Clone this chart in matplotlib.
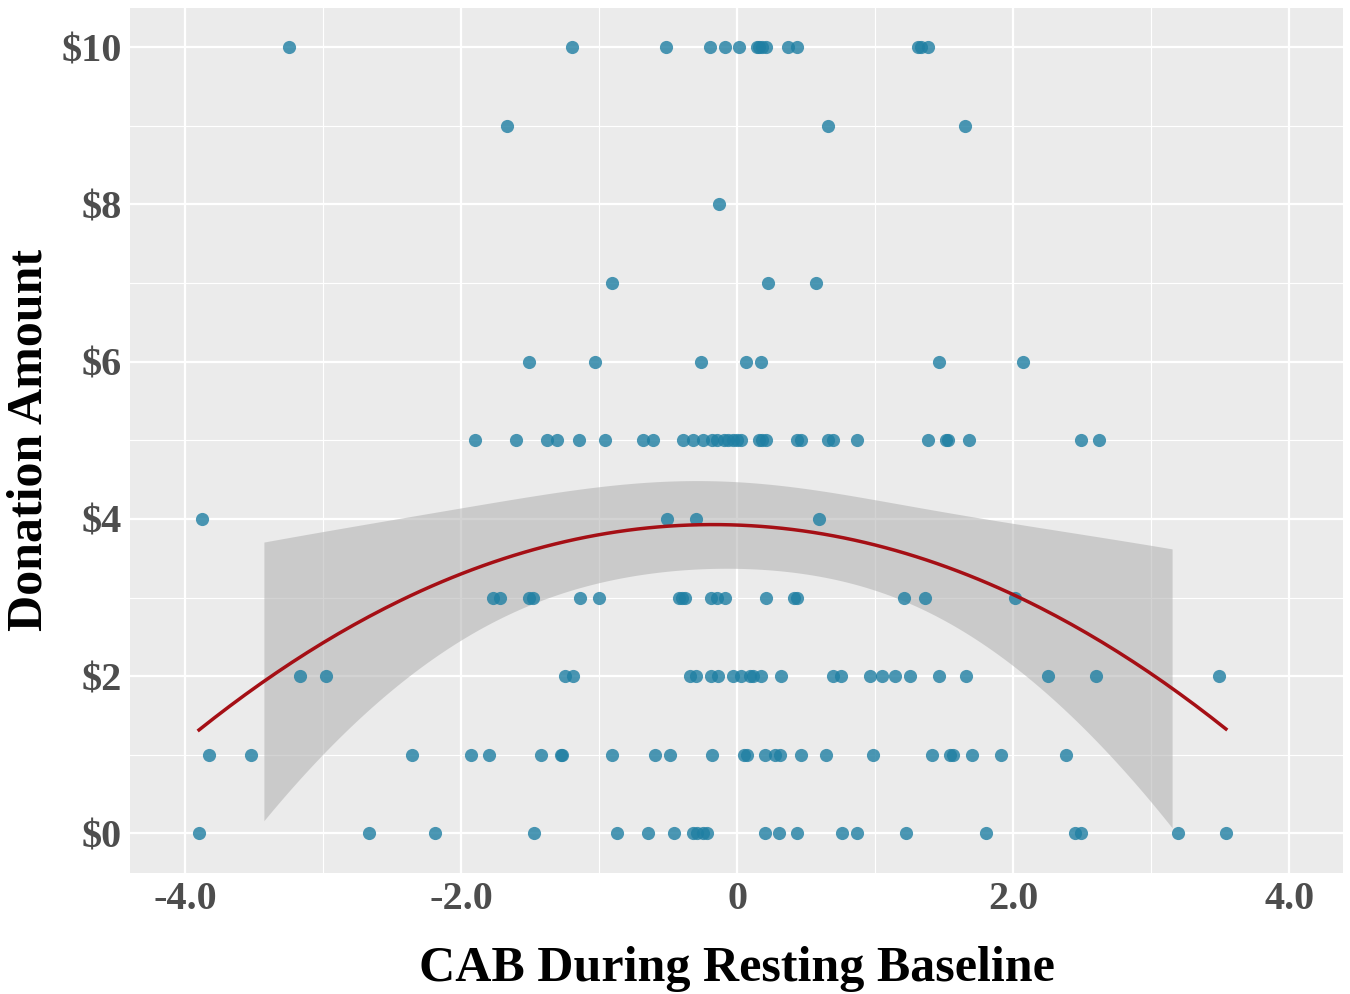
import matplotlib.pyplot as plt
import numpy as np

# donation amount -> CAB values
cab_0 = [-3.90, -2.67, -2.19, -1.47, -0.87, -0.65, -0.46, -0.32, -0.29, -0.25, -0.22,
         0.20, 0.30, 0.43, 0.76, 0.87, 1.22, 1.80, 2.45, 2.49, 3.19, 3.54]
cab_1 = [-3.83, -3.52, -2.36, -1.93, -1.80, -1.42, -1.28, -1.27, -0.91, -0.60, -0.49,
         -0.18, 0.05, 0.07, 0.20, 0.27, 0.31, 0.46, 0.64, 0.98, 1.41, 1.54, 1.56, 1.70,
         1.91, 2.38]
cab_2 = [-3.17, -2.98, -1.25, -1.19, -0.34, -0.30, -0.19, -0.14, -0.03, 0.03, 0.09,
         0.11, 0.17, 0.32, 0.69, 0.75, 0.96, 1.05, 1.14, 1.25, 1.46, 1.66, 2.25, 2.60, 3.49]
cab_3 = [-1.77, -1.72, -1.51, -1.48, -1.14, -1.00, -0.42, -0.40, -0.38, -0.19, -0.15,
         -0.09, 0.21, 0.41, 0.43, 1.21, 1.36, 2.01]
cab_4 = [-3.88, -0.51, -0.30, 0.59]
cab_5 = [-1.90, -1.60, -1.38, -1.31, -1.15, -0.96, -0.68, -0.61, -0.39, -0.32, -0.25,
         -0.18, -0.15, -0.10, -0.07, -0.03, 0.00, 0.03, 0.16, 0.18, 0.21, 0.43, 0.46,
         0.66, 0.69, 0.87, 1.38, 1.51, 1.53, 1.68, 2.49, 2.62]
cab_6 = [-1.51, -1.03, -0.26, 0.06, 0.17, 1.46, 2.07]
cab_7 = [-0.91, 0.22, 0.57]
cab_8 = [-0.13]
cab_9 = [-1.67, 0.66, 1.65]
cab_10 = [-3.25, -1.20, -0.52, -0.20, -0.09, 0.01, 0.14, 0.16, 0.18, 0.21, 0.37, 0.43,
          1.31, 1.33, 1.38]

groups = [cab_0, cab_1, cab_2, cab_3, cab_4, cab_5, cab_6, cab_7, cab_8, cab_9, cab_10]
x = np.concatenate([np.array(g) for g in groups])
y = np.concatenate([np.full(len(g), float(i)) for i, g in enumerate(groups)])

# quadratic fit with 95% confidence band
X = np.column_stack([np.ones_like(x), x, x ** 2])
beta, res, _, _ = np.linalg.lstsq(X, y, rcond=None)
n, p = X.shape
sigma2 = ((y - X @ beta) ** 2).sum() / (n - p)
cov = sigma2 * np.linalg.inv(X.T @ X)

line_x = np.linspace(x.min(), x.max(), 200)
band_x = np.linspace(-3.43, 3.15, 200)
Lb = np.column_stack([np.ones_like(band_x), band_x, band_x ** 2])
band_y = Lb @ beta
se = np.sqrt(np.einsum('ij,jk,ik->i', Lb, cov, Lb))
Ll = np.column_stack([np.ones_like(line_x), line_x, line_x ** 2])

plt.rcParams['font.family'] = ['Liberation Serif', 'DejaVu Serif']
fig = plt.figure(figsize=(13.5, 9.94), dpi=100)
ax = fig.add_axes([0.0963, 0.122, 0.8987, 0.870])
ax.set_facecolor('#EBEBEB')

ax.fill_between(band_x, band_y - 1.97 * se, band_y + 1.97 * se, color='#B0B0B0',
                alpha=0.55, linewidth=0, zorder=2)
ax.scatter(x, y, s=90, color='#1F7FA3', alpha=0.8, linewidths=0, zorder=3)
ax.plot(line_x, Ll @ beta, color='#A50F15', linewidth=2.5, zorder=4)

ax.set_xlim(-4.40, 4.39)
ax.set_ylim(-0.5, 10.5)
ax.set_xticks([-4, -2, 0, 2, 4])
ax.set_xticklabels(['-4.0', '-2.0', '0', '2.0', '4.0'])
ax.set_xticks([-3, -1, 1, 3], minor=True)
ax.set_yticks([0, 2, 4, 6, 8, 10])
ax.set_yticklabels(['$0', '$2', '$4', '$6', '$8', '$10'])
ax.set_yticks([1, 3, 5, 7, 9], minor=True)
ax.grid(which='major', color='white', linewidth=1.6, zorder=0)
ax.grid(which='minor', color='white', linewidth=0.8, zorder=0)
ax.set_axisbelow(True)
for s in ax.spines.values():
    s.set_visible(False)
ax.tick_params(which='both', length=0, pad=6)
for lab in ax.get_xticklabels() + ax.get_yticklabels():
    lab.set_fontsize(29)
    lab.set_fontweight('bold')
    lab.set_color('#4D4D4D')

ax.set_xlabel('CAB During Resting Baseline', fontsize=36, fontweight='bold', labelpad=20)
ax.set_ylabel('Donation Amount', fontsize=36, fontweight='bold', labelpad=6)

fig.savefig('out.png', dpi=100)
